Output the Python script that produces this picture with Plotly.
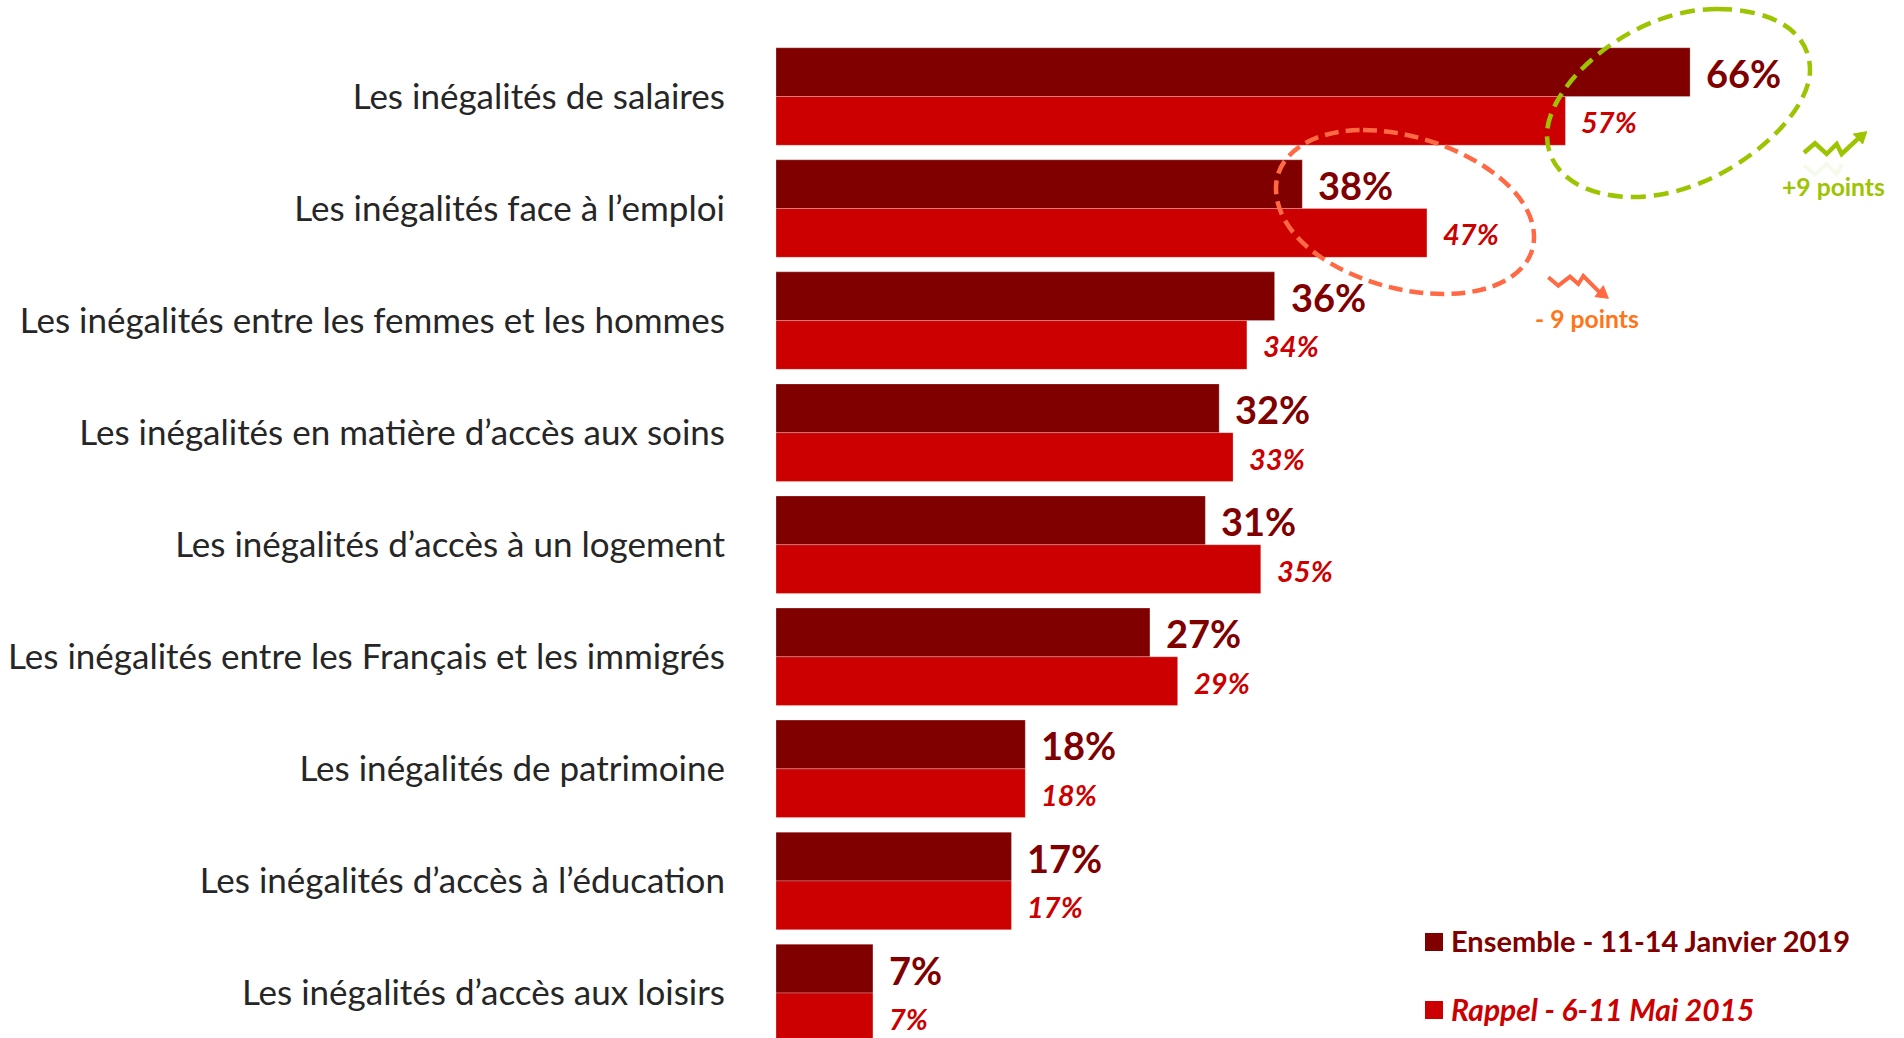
import plotly.graph_objects as go

categories = ["Les inégalités de salaires", "Les inégalités face à l’emploi",
              "Les inégalités entre les femmes et les hommes",
              "Les inégalités en matière d’accès aux soins",
              "Les inégalités d’accès à un logement",
              "Les inégalités entre les Français et les immigrés",
              "Les inégalités de patrimoine", "Les inégalités d’accès à l’éducation",
              "Les inégalités d’accès aux loisirs"]
ensemble = [66, 38, 36, 32, 31, 27, 18, 17, 7]
rappel = [57, 47, 34, 33, 35, 29, 18, 17, 7]
name_a = "Ensemble - 11-14 Janvier 2019"
name_b = "Rappel - 6-11 Mai 2015"

W, H = 1904, 1038
L = 776
DARK, RED, GREEN, ORANGE, ORANGE_T = "#800000", "#CC0000", "#9DC400", "#FF6A45", "#FF7518"
FONT = "Lato"


def px(x):
    return (x - L) / (W - L)


def py(y):
    return 1 - y / H


def path(*segments):
    """Build an SVG path in paper units from (command, [(x, y), ...]) pixel segments."""
    out = []
    for cmd, pts in segments:
        out.append(cmd + " " + " ".join(f"{px(x):.5f},{py(y):.5f}" for x, y in pts))
    return " ".join(out)


def poly(pts, close=False):
    segs = [("M", [pts[0]])] + [("L", [p]) for p in pts[1:]]
    return path(*segs) + (" Z" if close else "")


fig = go.Figure()
edge = dict(color="rgba(255,255,255,0.25)", width=1)
fig.add_bar(y=categories, x=ensemble, orientation="h", name=name_a, marker=dict(color=DARK, line=edge))
fig.add_bar(y=categories, x=rappel, orientation="h", name=name_b, marker=dict(color=RED, line=edge))

annotations = []
for i, (a, b) in enumerate(zip(ensemble, rappel)):
    annotations.append(dict(x=a, y=i - 0.2175, xref="x", yref="y", text=f"<b>{a}%</b>", showarrow=False,
                            xanchor="left", yanchor="middle", xshift=14, yshift=-1,
                            font=dict(family=FONT, size=38, color=DARK)))
    annotations.append(dict(x=b, y=i + 0.2175, xref="x", yref="y", text=f"<b><i>{b}%</i></b>", showarrow=False,
                            xanchor="left", yanchor="middle", xshift=14, yshift=-1,
                            font=dict(family=FONT, size=29, color=RED)))


def free_text(x, y, text, size, color, anchor="left"):
    annotations.append(dict(x=px(x), y=py(y), xref="paper", yref="paper", text=text, showarrow=False,
                            xanchor=anchor, yanchor="middle", xshift=0, font=dict(family=FONT, size=size, color=color)))


free_text(1833, 187, "<b>+9 points</b>", 24.7, GREEN, "center")
free_text(1587, 318, "<b>- 9 points</b>", 24.7, ORANGE_T, "center")
free_text(1449, 940, f"<b>{name_a}</b>", 29, DARK)
free_text(1449, 1009, f"<b><i>{name_b}</i></b>", 30, RED)

green_ellipse = path(("M", [(1717, 9)]), ("C", [(1770, 9), (1810, 30), (1810, 70)]),
                     ("C", [(1810, 120), (1720, 197), (1633, 197)]),
                     ("C", [(1585, 197), (1547, 175), (1547, 135)]),
                     ("C", [(1547, 85), (1630, 9), (1717, 9)])) + " Z"
orange_ellipse = path(("M", [(1363, 130)]), ("C", [(1440, 130), (1534, 180), (1534, 237)]),
                      ("C", [(1534, 270), (1500, 294), (1443, 294)]),
                      ("C", [(1370, 294), (1276, 250), (1276, 188)]),
                      ("C", [(1276, 155), (1310, 130), (1363, 130)])) + " Z"


def z1(x, y):
    return (1450 + x / 3, y / 3)


def z2(x, y):
    return (1250 + x / 3, 120 + y / 3)


green_zig = [z1(1062, 458), z1(1095, 430), z1(1130, 462), z1(1160, 432), z1(1175, 462), z1(1225, 415)]
green_head = [z1(1250, 395), z1(1210, 402), z1(1238, 432)]
green_refl = [(x, 2 * 155 - y + 8) for x, y in green_zig[:5]]
orange_zig = [z2(895, 472), z2(925, 497), z2(960, 470), z2(985, 492), z2(1000, 468), z2(1052, 520)]
orange_head = [z2(1075, 535), z2(1035, 530), z2(1060, 497)]


def base(d, **kw):
    return dict(type="path", xref="paper", yref="paper", path=d, layer="above", **kw)


shapes = [
    base(green_ellipse, line=dict(color=GREEN, width=4.5, dash="15px,8px")),
    base(orange_ellipse, line=dict(color=ORANGE, width=4.5, dash="14px,7px")),
    base(poly(green_zig), line=dict(color=GREEN, width=4.5)),
    base(poly(green_head, True), fillcolor=GREEN, line=dict(color=GREEN, width=1)),
    base(poly(green_refl), line=dict(color=GREEN, width=4), opacity=0.08),
    base(poly(orange_zig), line=dict(color=ORANGE, width=4)),
    base(poly(orange_head, True), fillcolor=ORANGE, line=dict(color=ORANGE, width=1)),
    base(poly([(1425, 933), (1443, 933), (1443, 951), (1425, 951)], True), fillcolor=DARK, line=dict(width=0)),
    base(poly([(1425, 1001), (1443, 1001), (1443, 1019), (1425, 1019)], True), fillcolor=RED, line=dict(width=0)),
]

fig.update_layout(
    width=W, height=H, margin=dict(l=L, r=0, t=0, b=0), paper_bgcolor="white", plot_bgcolor="rgba(0,0,0,0)",
    barmode="group", bargap=0.13, bargroupgap=0, showlegend=False, annotations=annotations, shapes=shapes,
    xaxis=dict(range=[0, (W - L) / 13.85], visible=False),
    yaxis=dict(type="category", categoryorder="array", categoryarray=categories,
               range=[(H - 96.5) / 112.06, -96.5 / 112.06], showgrid=False, zeroline=False, showline=False, ticks="",
               ticklabelstandoff=50, automargin=False,
               tickfont=dict(family=FONT, size=35, color="#262626")),
)
fig.write_html("out.html", config={"displayModeBar": False},
               post_script="document.body.style.margin='0';document.body.style.overflow='hidden';")
